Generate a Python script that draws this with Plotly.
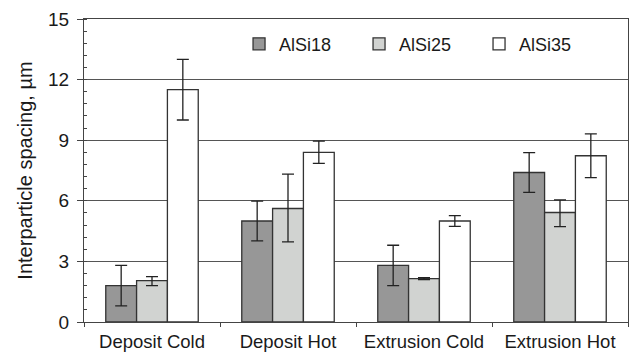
import plotly.graph_objects as go

categories = ["Deposit Cold", "Deposit Hot", "Extrusion Cold", "Extrusion Hot"]

alsi18 = [1.8, 5.0, 2.8, 7.4]
alsi18_err = [1.0, 0.98, 1.0, 0.98]

alsi25 = [2.05, 5.62, 2.15, 5.42]
alsi25_err_plus = [0.2, 1.7, 0.05, 0.63]
alsi25_err_minus = [0.25, 1.65, 0.05, 0.7]

alsi35 = [11.5, 8.4, 5.0, 8.23]
alsi35_err = [1.5, 0.55, 0.27, 1.08]

y_ticks = [0, 3, 6, 9, 12, 15]

FONT = "Liberation Sans, Arial, sans-serif"
OUTLINE = "#333333"
ERR = "#222222"


def bar(name, values, color, plus, minus=None):
    err = dict(type="data", array=plus, color=ERR, thickness=1.3, width=6)
    if minus is not None:
        err["symmetric"] = False
        err["arrayminus"] = minus
    return go.Bar(
        name=name,
        x=categories,
        y=values,
        marker=dict(color=color, line=dict(color=OUTLINE, width=1.3)),
        error_y=err,
    )


fig = go.Figure()
fig.add_trace(bar("AlSi18", alsi18, "#979797", alsi18_err))
fig.add_trace(bar("AlSi25", alsi25, "#d1d3d1", alsi25_err_plus, alsi25_err_minus))
fig.add_trace(bar("AlSi35", alsi35, "#ffffff", alsi35_err))

fig.update_layout(
    width=633,
    height=358,
    margin=dict(l=84, r=5, t=19, b=36),
    paper_bgcolor="white",
    plot_bgcolor="white",
    barmode="group",
    bargap=0.32,
    bargroupgap=0,
    font=dict(family=FONT, size=18, color="#1a1a1a"),
    legend=dict(
        orientation="h",
        x=0.285,
        y=0.978,
        xanchor="left",
        yanchor="top",
        entrywidth=75,
        entrywidthmode="pixels",
        font=dict(size=18),
        bgcolor="rgba(0,0,0,0)",
    ),
    xaxis=dict(
        showline=True,
        linecolor="#444444",
        linewidth=1.3,
        mirror=True,
        ticks="outside",
        tickson="boundaries",
        ticklen=4,
        tickcolor="#444444",
        showgrid=False,
        tickfont=dict(size=18.5),
        ticklabelstandoff=3,
    ),
    yaxis=dict(
        range=[0, 15],
        tickvals=y_ticks,
        ticks="outside",
        ticklen=6,
        tickcolor="#444444",
        showline=True,
        linecolor="#444444",
        linewidth=1.3,
        mirror=True,
        showgrid=True,
        gridcolor="#555555",
        gridwidth=1,
        zeroline=False,
        tickfont=dict(size=19),
        ticklabelstandoff=4,
        minor=dict(dtick=0.6, ticks="inside", ticklen=3, tickcolor="#444444", showgrid=False),
        title=dict(text="Interparticle spacing, µm", font=dict(size=20), standoff=9),
    ),
)

fig.write_html("out.html")
